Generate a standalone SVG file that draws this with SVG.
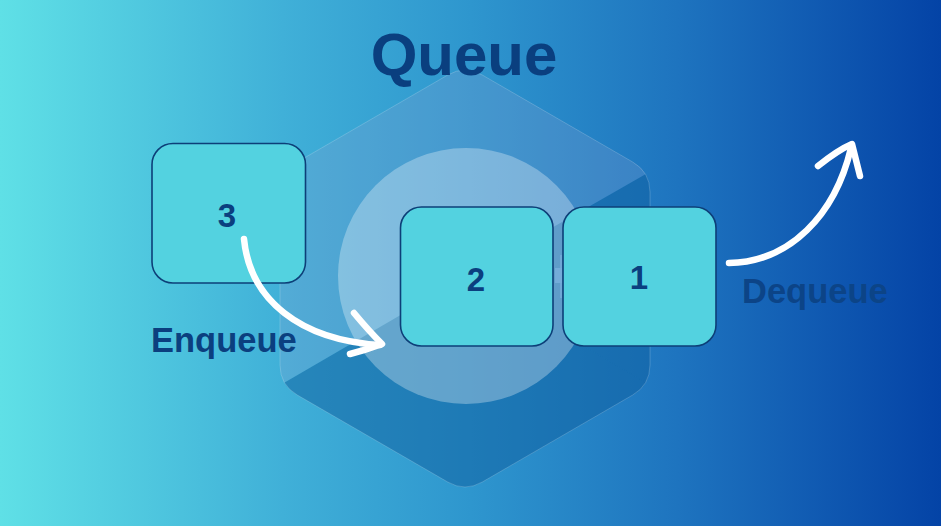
<svg xmlns="http://www.w3.org/2000/svg" width="941" height="526" viewBox="0 0 941 526">
  <defs>
    <linearGradient id="bg" x1="0" y1="0" x2="1" y2="0">
      <stop offset="0" stop-color="#5fe0e6"/>
      <stop offset="0.3" stop-color="#40b0d8"/>
      <stop offset="0.5" stop-color="#2e96ce"/>
      <stop offset="0.72" stop-color="#1e74bf"/>
      <stop offset="1" stop-color="#0443a6"/>
    </linearGradient>
    <clipPath id="hexclip">
      <path d="M482.3,75 L632.7,162 Q650,172 650,192 L650,365 Q650,385 632.7,395 L482.3,482 Q465,492 447.7,482 L297.3,395 Q280,385 280,365 L280,192 Q280,172 297.3,162 L447.7,75 Q465,65 482.3,75 Z"/>
    </clipPath>
    <style>
      .box { fill: #53d2e0; stroke: #0d3f78; stroke-width: 1.6; }
      .num { font-family: "Liberation Sans", Arial, sans-serif; font-weight: bold; font-size: 33px; fill: #0b3f7f; text-anchor: middle; }
      .lbl { font-family: "Liberation Sans", Arial, sans-serif; font-weight: bold; font-size: 34.5px; }
      .arrow { fill: none; stroke: #ffffff; stroke-width: 6.5; stroke-linecap: round; stroke-linejoin: round; }
    </style>
  </defs>

  <rect x="0" y="0" width="941" height="526" fill="url(#bg)"/>

  <g id="logo">
    <g clip-path="url(#hexclip)">
      <polygon points="270,55 660,55 660,166 466,277 270,391" fill="#8a9ed0" fill-opacity="0.25"/>
      <polygon points="270,391 466,277 660,391 660,505 270,505" fill="#0d5e9e" fill-opacity="0.5"/>
      <polygon points="660,166 466,277 660,391" fill="#0d5e9e" fill-opacity="0.5"/>
    </g>
    <path d="M482.3,75 L632.7,162 Q650,172 650,192 L650,365 Q650,385 632.7,395 L482.3,482 Q465,492 447.7,482 L297.3,395 Q280,385 280,365 L280,192 Q280,172 297.3,162 L447.7,75 Q465,65 482.3,75 Z" fill="none" stroke="#ffffff" stroke-opacity="0.18" stroke-width="1"/>
    <circle cx="466" cy="276" r="128" fill="#ffffff" fill-opacity="0.3"/>
    <rect x="555" y="268" width="7" height="15" fill="#74acd9"/>
    <line x1="561" y1="255" x2="561" y2="298" stroke="#74acd9" stroke-width="1.5"/>
  </g>

  <text id="title" x="464" y="75" font-family="'Liberation Sans', Arial, sans-serif" font-weight="bold" font-size="60" fill="#0a3f7f" text-anchor="middle">Queue</text>

  <g id="node-3">
    <rect class="box" x="152" y="143.5" width="153.5" height="139.5" rx="21"/>
    <text class="num" x="227" y="227">3</text>
  </g>
  <g id="node-2">
    <rect class="box" x="400.5" y="207" width="152.5" height="139" rx="21"/>
    <text class="num" x="476" y="291">2</text>
  </g>
  <g id="node-1">
    <rect class="box" x="563" y="207" width="153" height="139" rx="21"/>
    <text class="num" x="639" y="289">1</text>
  </g>

  <g id="connectors">
    <path class="arrow" d="M244,239 C250,300 300,340 380,345"/>
    <path class="arrow" d="M354,313 Q369,331 382,344 Q366,350 350,354"/>
    <path class="arrow" d="M729,263 C790,262 835,215 851,148"/>
    <path class="arrow" d="M818,166 Q838,150 852,144 Q856,160 860,176"/>
  </g>

  <text id="enqueue-label" class="lbl" x="151" y="352" fill="#0b3f7f">Enqueue</text>
  <text id="dequeue-label" class="lbl" x="742" y="303" fill="#0c4487">Dequeue</text>
</svg>
